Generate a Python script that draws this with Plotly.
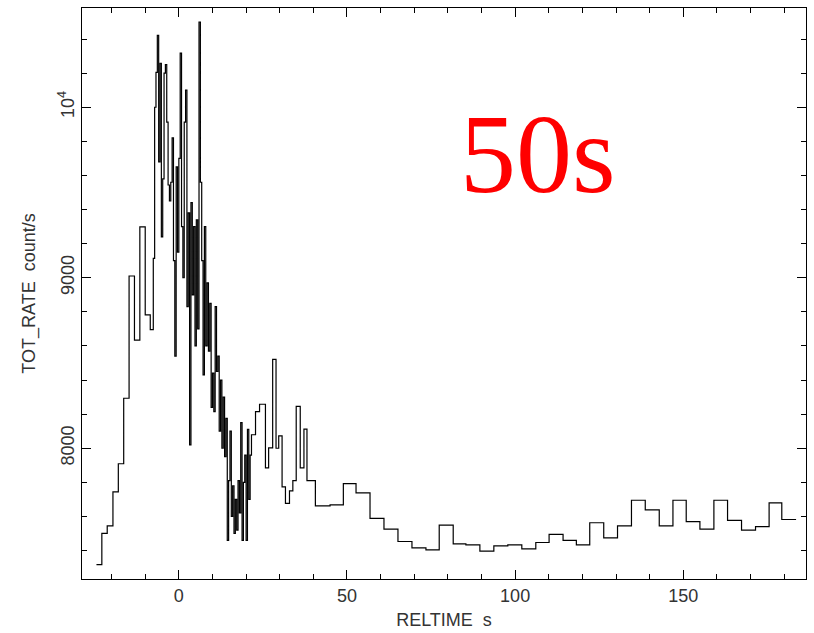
import plotly.graph_objects as go

# Light curve: total count rate vs time relative to trigger (variable-width bins)

# slow rise before the burst: bin starts (s) and rates (count/s)
rise_edges = [-24.5, -22.9, -21.3, -19.6, -18.0, -16.4, -14.8, -13.2, -11.6, -10.0, -8.5, -7.6]
rise_rates = [7317, 7501, 7544, 7744, 7909, 8293, 9010, 8634, 9298, 8782, 8696, 9113]

# fine bins across the main peak
peak_start = -7.2
peak_bin = 0.4
peak_rates = [10000, 10204, 10421, 9680, 10258, 9240, 9580, 10200, 10250, 9913,
              9544, 9450, 9560, 9820, 9100, 8540, 9650, 9150, 9700, 10317,
              9300, 9000, 9913, 10100, 8830, 9380, 8020, 9440, 8900, 9300,
              8600, 9340, 8700, 10500, 9560, 9100, 8430, 9300, 8600, 8970,
              8570, 8850, 8240, 8440, 8215, 8830, 8450, 8540, 8100, 8400,
              8000, 8300, 7950, 8175, 7460, 7810, 8100, 7600, 7780, 7500,
              7700, 7520, 7810, 7620, 8150, 7460, 7800, 7960, 7460, 8110,
              7700, 7960]

# decay tail with ~1 s bins
tail_edges = [21.6, 22.8, 24.0, 25.75, 26.7, 27.9, 28.9, 29.7, 30.7, 31.7,
              32.9, 33.9, 34.9, 36.1, 37.2, 38.1]
tail_rates = [8079, 8215, 8258, 7885, 8002, 8521, 8000, 8073, 7773, 7676,
              7750, 7810, 8246, 7885, 8112, 7810]

# late-time background with ~4 s bins
late_edges = [40.60, 44.97, 48.92, 52.69, 56.85, 61.00, 65.16, 69.32, 73.48, 77.43,
              81.59, 85.36, 89.52, 93.67, 97.83, 101.99, 106.15, 110.10, 114.26, 118.21,
              122.19, 126.35, 130.45, 134.60, 138.70, 142.86, 146.93, 150.88, 154.95, 159.11,
              163.17, 167.33, 171.49, 175.53, 179.30]
late_rates = [7662, 7668, 7792, 7738, 7588, 7526, 7453, 7415, 7404, 7549,
              7439, 7433, 7396, 7427, 7433, 7410, 7447, 7495, 7459, 7433,
              7563, 7474, 7544, 7695, 7639, 7544, 7695, 7569, 7526, 7695,
              7577, 7520, 7540, 7680, 7582]
late_end = 183.55

x_ticks = [0, 50, 100, 150]
y_ticks = [8000, 9000, 10000]
y_ticktext = ["8000", "9000", "10<sup>4</sup>"]

peak_edges = [peak_start + i * peak_bin for i in range(len(peak_rates))]
edges = rise_edges + peak_edges + tail_edges + late_edges + [late_end]
rates = rise_rates + peak_rates + tail_rates + late_rates
rates = rates + [rates[-1]]

fig = go.Figure()
fig.add_trace(go.Scatter(
    x=edges, y=rates, mode="lines",
    line=dict(shape="hv", color="black", width=1.2),
    showlegend=False, hoverinfo="skip",
))

font = dict(family="Liberation Sans", size=18, color="#333333")

axis_common = dict(
    showline=True, linecolor="black", linewidth=1.2, mirror="allticks",
    ticks="inside", ticklen=9, tickwidth=1.2, tickcolor="black",
    showgrid=False, zeroline=False, tickfont=font,
)

fig.update_layout(
    width=814, height=633,
    margin=dict(l=82, r=7, t=7, b=51),
    paper_bgcolor="white", plot_bgcolor="white",
    font=font,
    xaxis=dict(
        range=[-28.8, 186.5], tickvals=x_ticks,
        minor=dict(tickmode="linear", tick0=0, dtick=10, ticks="inside",
                   ticklen=5, tickwidth=1.2, tickcolor="black"),
        title=dict(text="RELTIME  s", font=font, standoff=8),
        **axis_common,
    ),
    yaxis=dict(
        range=[7233, 10582], tickvals=y_ticks, ticktext=y_ticktext, tickangle=-90,
        minor=dict(tickmode="linear", tick0=0, dtick=200, ticks="inside",
                   ticklen=5, tickwidth=1.2, tickcolor="black"),
        title=dict(text="TOT_RATE  count/s", font=font, standoff=14),
        **axis_common,
    ),
    annotations=[dict(
        text="50s", xref="paper", yref="paper", x=0.63, y=0.745,
        xanchor="center", yanchor="middle", showarrow=False,
        font=dict(family="Liberation Serif", size=112, color="#ff0000"),
    )],
)

fig.write_html("out.html")
